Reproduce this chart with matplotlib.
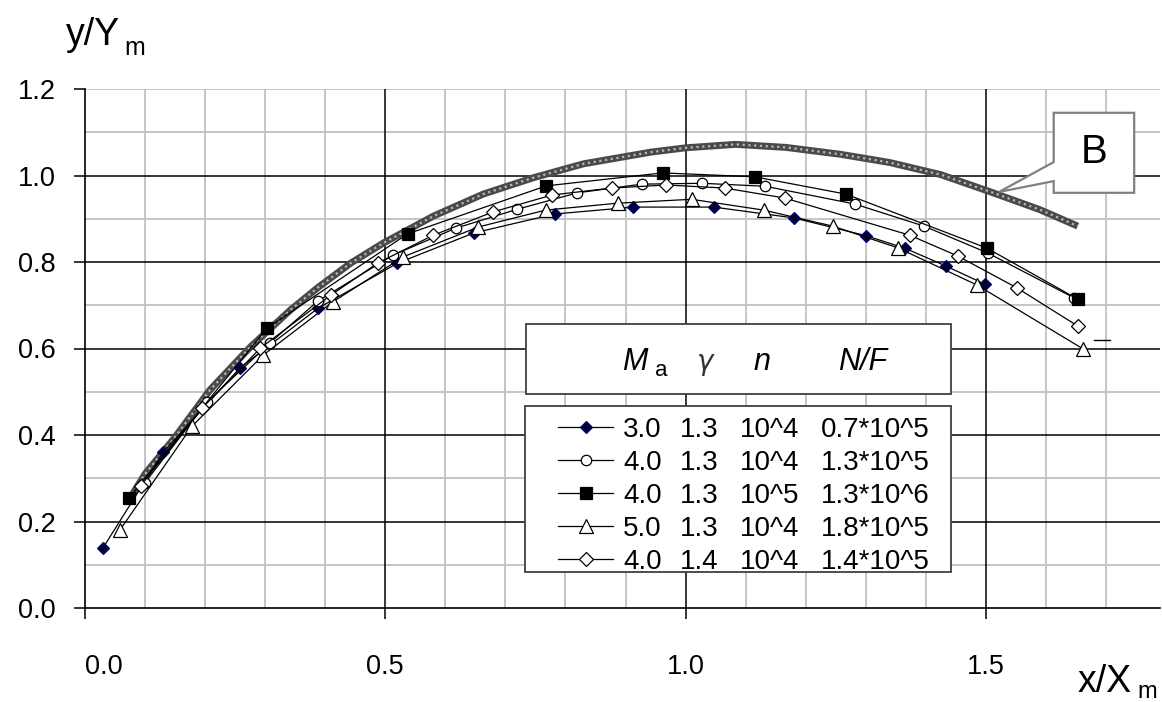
import matplotlib
matplotlib.use("Agg")
import matplotlib.pyplot as plt
from matplotlib.lines import Line2D
from matplotlib.patches import Rectangle, Polygon
from matplotlib.ticker import FixedLocator, FormatStrFormatter

plt.rcParams['font.family'] = ['Liberation Sans', 'DejaVu Sans']

# series (x/Xm, y/Ym)
x_s1 = [0.03, 0.13, 0.258, 0.388, 0.52, 0.647, 0.782, 0.913, 1.047, 1.18, 1.30, 1.365, 1.433, 1.498]
y_s1 = [0.139, 0.36, 0.555, 0.693, 0.797, 0.867, 0.911, 0.927, 0.927, 0.902, 0.861, 0.832, 0.791, 0.749]

x_s2 = [0.10, 0.203, 0.308, 0.388, 0.513, 0.617, 0.72, 0.82, 0.927, 1.028, 1.133, 1.282, 1.397, 1.503, 1.647]
y_s2 = [0.29, 0.476, 0.613, 0.71, 0.816, 0.878, 0.922, 0.96, 0.98, 0.982, 0.975, 0.934, 0.883, 0.821, 0.717]

x_s3 = [0.073, 0.303, 0.537, 0.768, 0.962, 1.115, 1.267, 1.502, 1.653]
y_s3 = [0.254, 0.647, 0.865, 0.976, 1.006, 0.997, 0.957, 0.832, 0.714]

x_s4 = [0.058, 0.178, 0.297, 0.413, 0.53, 0.655, 0.767, 0.887, 1.01, 1.13, 1.245, 1.353, 1.485, 1.662]
y_s4 = [0.18, 0.42, 0.585, 0.708, 0.812, 0.881, 0.92, 0.936, 0.945, 0.92, 0.883, 0.833, 0.747, 0.599]

x_s5 = [0.093, 0.195, 0.292, 0.41, 0.488, 0.58, 0.68, 0.778, 0.877, 0.968, 1.065, 1.165, 1.373, 1.453, 1.552, 1.653]
y_s5 = [0.283, 0.462, 0.601, 0.724, 0.798, 0.862, 0.916, 0.955, 0.971, 0.978, 0.971, 0.948, 0.862, 0.814, 0.74, 0.652]

# curve B
x_b = [0.08, 0.10, 0.15, 0.208, 0.275, 0.342, 0.387, 0.442, 0.497, 0.58, 0.663, 0.747, 0.83, 0.942,
       1.0, 1.083, 1.167, 1.258, 1.34, 1.425, 1.508, 1.59, 1.653]
y_b = [0.265, 0.31, 0.395, 0.504, 0.603, 0.689, 0.74, 0.797, 0.844, 0.906, 0.957, 0.995, 1.027, 1.054,
       1.064, 1.072, 1.065, 1.049, 1.03, 1.002, 0.962, 0.921, 0.883]

col_ma = ['3.0', '4.0', '4.0', '5.0', '4.0']
col_gamma = ['1.3', '1.3', '1.3', '1.3', '1.4']
col_n = ['10^4', '10^4', '10^5', '10^4', '10^4']
col_nf = ['0.7*10^5', '1.3*10^5', '1.3*10^6', '1.8*10^5', '1.4*10^5']

W, H = 1162, 702
fig = plt.figure(figsize=(W / 100, H / 100), dpi=100)
fig.patch.set_facecolor('white')

def fx(px):
    return px / W

def fy(py):
    return 1 - py / H

ax = fig.add_axes([fx(85), fy(608), (1160 - 85) / W, (608 - 89) / H])
ax.set_xlim(0, 1.79)
ax.set_ylim(0, 1.2)

# grid
for v in [0.1, 0.3, 0.5, 0.7, 0.9, 1.1, 1.2]:
    ax.axhline(v, color='#c0c0c0', lw=1.3, zorder=0)
for v in [0.2, 0.4, 0.6, 0.8, 1.0]:
    ax.axhline(v, color='black', lw=1.1, zorder=0.5)
for i in range(1, 18):
    v = i / 10
    if i % 5:
        ax.axvline(v, color='#c0c0c0', lw=1.3, zorder=0)
for v in [0.5, 1.0, 1.5]:
    ax.axvline(v, color='black', lw=1.1, zorder=0.5)

for s in ['top', 'right']:
    ax.spines[s].set_visible(False)
for s in ['left', 'bottom']:
    ax.spines[s].set_color('black')
    ax.spines[s].set_linewidth(1.2)

ax.xaxis.set_major_locator(FixedLocator([0.0, 0.5, 1.0, 1.5]))
ax.yaxis.set_major_locator(FixedLocator([0.0, 0.2, 0.4, 0.6, 0.8, 1.0, 1.2]))
ax.xaxis.set_major_formatter(FormatStrFormatter('%.1f'))
ax.yaxis.set_major_formatter(FormatStrFormatter('%.1f'))
ax.tick_params(axis='both', direction='out', length=8, width=1.1, labelsize=19.5, color='black')
ax.tick_params(axis='y', pad=13)
ax.tick_params(axis='x', pad=25)
ax.get_xticklabels()[0].set_horizontalalignment('left')

# curve B: thick hatched line
ax.plot(x_b, y_b, color='#4a4a4a', lw=5, solid_capstyle='butt', solid_joinstyle='round', zorder=3)
ax.plot(x_b, y_b, color='#b8b8b8', lw=1.6, linestyle=(0, (1.0, 1.6)), zorder=3.1)

styles = [
    dict(marker='D', ms=6.5, mfc='#000030', mec='#000080'),
    dict(marker='o', ms=7.5, mfc='white', mec='black'),
    dict(marker='s', ms=9, mfc='black', mec='black'),
    dict(marker='^', ms=10, mfc='white', mec='black'),
    dict(marker='D', ms=7.5, mfc='white', mec='black'),
]
series = [(x_s1, y_s1), (x_s2, y_s2), (x_s3, y_s3), (x_s4, y_s4), (x_s5, y_s5)]
for (xs, ys), st in zip(series, styles):
    ax.plot(xs, ys, color='black', lw=0.9, mew=0.9, zorder=4, **st)

# callout B
callout = Polygon([(1.613, 1.145), (1.747, 1.145), (1.747, 0.96), (1.613, 0.96), (1.613, 0.987),
                   (1.522, 0.962), (1.613, 1.031)], closed=True, facecolor='white',
                  edgecolor='#808080', lw=1.6, zorder=6)
ax.add_patch(callout)
ax.text(1.68, 1.055, 'B', fontsize=29, ha='center', va='center', zorder=7)

# small dash near the right end
fig.add_artist(Line2D([fx(1094), fx(1110)], [fy(340), fy(340)], color='black', lw=1.0))

# legend header box
fig.add_artist(Rectangle((fx(526), fy(394)), (951 - 526) / W, (394 - 324) / H,
                         transform=fig.transFigure, facecolor='white', edgecolor='#404040', lw=1.3, zorder=8))
hdr = dict(fontsize=22, va='baseline', zorder=9)
fig.text(fx(622), fy(370), 'M', style='italic', **hdr)
fig.text(fx(655), fy(376), 'a', fontsize=16, va='baseline', zorder=9)
fig.text(fx(697), fy(370), 'γ', style='italic', family=['DejaVu Sans'], fontsize=20,
         va='baseline', zorder=9, color='#333333')
fig.text(fx(754), fy(370), 'n', style='italic', **hdr)
fig.text(fx(838), fy(370), 'N/F', style='italic', **hdr)

# legend entries box
fig.add_artist(Rectangle((fx(525), fy(572)), (951 - 525) / W, (572 - 406) / H,
                         transform=fig.transFigure, facecolor='white', edgecolor='#404040', lw=1.3, zorder=8))
for i, st in enumerate(styles):
    yy = fy(427 + i * 33)
    fig.add_artist(Line2D([fx(558), fx(613)], [yy, yy], color='black', lw=0.9, zorder=9))
    fig.add_artist(Line2D([fx(586)], [yy], color='black', mew=0.9, zorder=9.5, **st))
    for xp, txt in zip([623, 680, 740, 821], [col_ma[i], col_gamma[i], col_n[i], col_nf[i]]):
        fig.text(fx(xp), yy, txt, fontsize=20, va='center_baseline', zorder=9)

# axis titles
fig.text(fx(66), fy(45), 'y/Y', fontsize=27, va='baseline')
fig.text(fx(124), fy(55), 'm', fontsize=18, va='baseline')
fig.text(fx(1078), fy(692), 'x/X', fontsize=27, va='baseline')
fig.text(fx(1137), fy(698), 'm', fontsize=17, va='baseline')

fig.savefig('out.png', dpi=100)
